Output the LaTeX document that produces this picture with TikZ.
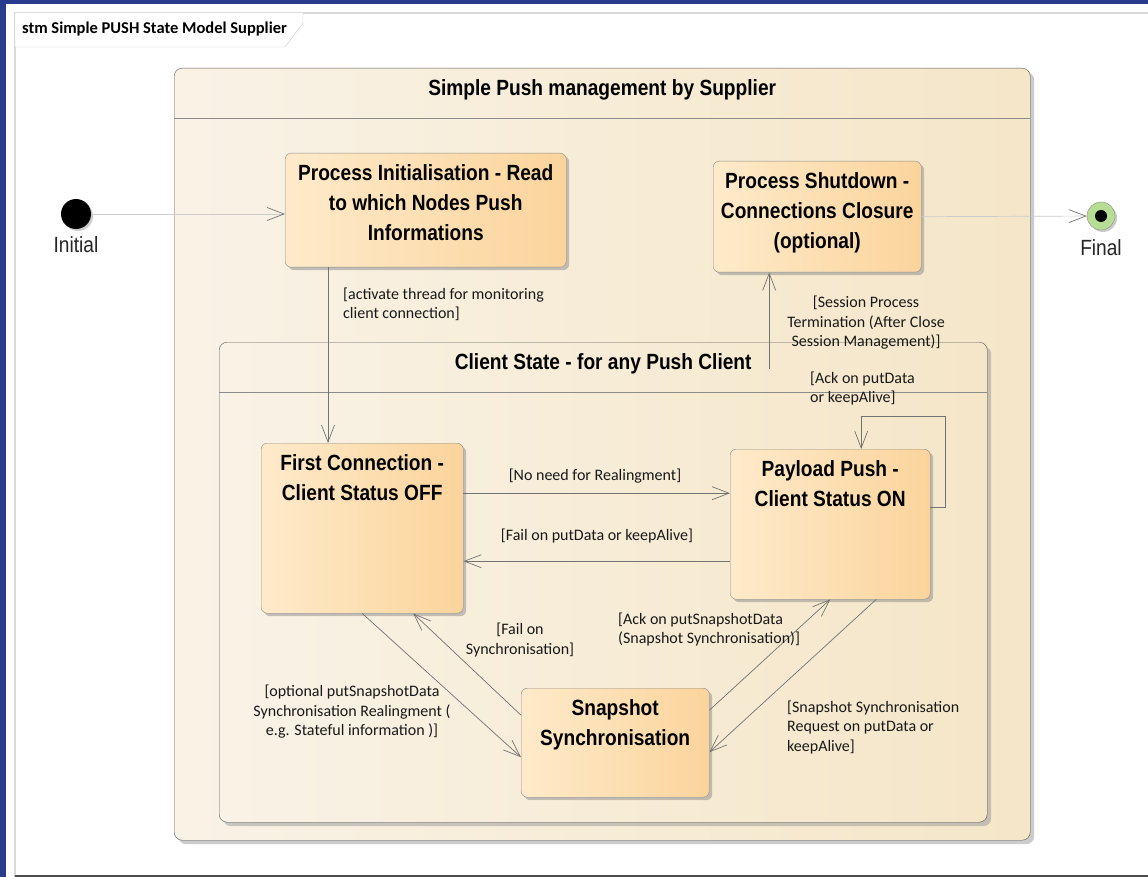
\documentclass[tikz,border=0pt]{standalone}
\usepackage{fontspec}
\setmainfont{Carlito}
\newfontfamily\narrowsans[FakeStretch=0.87]{Liberation Sans}
\usepackage{tikz}
\usetikzlibrary{arrows.meta, shadows, positioning}

\definecolor{frameblue}{RGB}{41,59,140}
\definecolor{compL}{RGB}{249,242,230}
\definecolor{compR}{RGB}{245,230,200}
\definecolor{stateL}{RGB}{254,234,202}
\definecolor{stateR}{RGB}{251,212,156}
\definecolor{finalgreen}{RGB}{183,220,148}

\tikzset{
	statebox/.style={draw=black!45, rounded corners=6pt, left color=stateL, right color=stateR,
		anchor=north west, inner sep=0pt,
		drop shadow={shadow xshift=3pt, shadow yshift=-3pt, fill=black!45, opacity=.5}},
	compbox/.style={draw=black!65, rounded corners=8pt, left color=compL, right color=compR,
		anchor=north west, inner sep=0pt,
		drop shadow={shadow xshift=4pt, shadow yshift=-4pt, fill=black!40, opacity=.5}},
	statetext/.style={anchor=north, inner sep=0pt, yshift=-11pt, align=center,
		font=\narrowsans\bfseries\fontsize{22}{30}\selectfont},
	pseudotext/.style={inner sep=0pt, font=\narrowsans\fontsize{22}{26}\selectfont, text=black!85},
	guard/.style={inner sep=0pt, text=black!90, font=\fontsize{16}{19.5}\selectfont},
	trans/.style={draw=black!55, line width=0.7pt, -{Straight Barb[length=17pt, width=13pt]}},
	entry/.style={draw=black!20, line width=0.7pt, -{Straight Barb[length=17pt, width=13pt, color=black!55]}},
}

\begin{document}
\begin{tikzpicture}[x=1pt, y=-1pt]
	\useasboundingbox (0,0) rectangle (1148,877);
	\fill[white] (0,0) rectangle (1148,877);
	\fill[frameblue] (0,0) rectangle (6,877);
	\fill[frameblue] (0,0) rectangle (1148,4);
	\draw[black!15, line width=1.2pt] (15,877) -- (15,13) -- (1148,13);
	\draw[black!70, line width=1.5pt] (15,876) -- (1148,876);
	\draw[black!20, fill=white] (15,13) -- (15,47) -- (285,47) -- (303,23) -- (303,13);
	\node[anchor=west, inner sep=0pt, font=\bfseries\fontsize{16.5}{19}\selectfont] (diagname) at (22,29) {stm Simple PUSH State Model Supplier};

	\node[compbox, minimum width=856pt, minimum height=772pt,
		label={[statetext]north:Simple Push management by Supplier}] (supplier) at (174,68) {};
	\draw[black!45] ([yshift=-50pt]supplier.north west) -- ([yshift=-50pt]supplier.north east);

	\node[compbox, minimum width=768pt, minimum height=480pt,
		label={[statetext]north:Client State - for any Push Client}] (client) at (219,342) {};
	\draw[black!45] ([yshift=-50pt]client.north west) -- ([yshift=-50pt]client.north east);

	\node[statebox, minimum width=281pt, minimum height=114pt,
		label={[statetext]north:Process Initialisation - Read\\to which Nodes Push\\Informations}] (procinit) at (285,153) {};
	\node[statebox, minimum width=208pt, minimum height=111pt,
		label={[statetext]north:Process Shutdown -\\Connections Closure\\(optional)}] (shutdown) at (713,161) {};
	\node[statebox, minimum width=202pt, minimum height=170pt,
		label={[statetext]north:First Connection -\\Client Status OFF}] (first) at (261,443) {};
	\node[statebox, minimum width=200pt, minimum height=150pt,
		label={[statetext]north:Payload Push -\\Client Status ON}] (payload) at (730,449) {};
	\node[statebox, minimum width=188pt, minimum height=109pt,
		label={[statetext]north:Snapshot\\Synchronisation}] (snapshot) at (521,688) {};

	\node[circle, fill=black, minimum size=30pt, inner sep=0pt,
		drop shadow={shadow xshift=2pt, shadow yshift=-2pt, fill=black!40, opacity=.5},
		label={[pseudotext, label distance=7pt]below:Initial}] (initial) at (76,214) {};
	\node[circle, draw=black!45, fill=finalgreen, minimum size=28pt, inner sep=0pt,
		drop shadow={shadow xshift=2pt, shadow yshift=-2pt, fill=black!40, opacity=.5},
		label={[pseudotext, label distance=9pt]below:Final}] (final) at (1101,216) {};
	\node[circle, fill=black, minimum size=12pt, inner sep=0pt] (finaldot) at (final) {};

	\coordinate (clientexit) at ([xshift=-48pt, yshift=-27pt]shutdown.south |- client.north);

	\draw[entry] (initial) -- (initial -| procinit.west);
	\draw[entry] (shutdown.east) -- (final);
	\draw[trans] ([xshift=43pt]procinit.south west) -- ([xshift=43pt]procinit.south west |- first.north);
	\draw[trans] (clientexit) -- (clientexit |- shutdown.south);
	\draw[trans] ([yshift=17pt]payload.east) -- ++(15,0) |- ([xshift=31pt, yshift=33pt]payload.north) -- ([xshift=31pt]payload.north);
	\draw[trans] ([yshift=35pt]first.east) -- ([yshift=35pt]first.east -| payload.west);
	\draw[trans] ([yshift=-37pt]payload.west) -- ([yshift=-37pt]payload.west -| first.east);
	\draw[trans] ([yshift=27.5pt]snapshot.west) -- ([xshift=51pt]first.south);
	\draw[trans] (first.south) -- ([yshift=-14.5pt]snapshot.west);
	\draw[trans] ([yshift=32.5pt]snapshot.east) -- (payload.south);
	\draw[trans] ([xshift=46pt]payload.south) -- ([yshift=-9.5pt]snapshot.east);

	\node[guard, anchor=west, align=left] (g1) at (343,304.5) {[activate thread for monitoring\\client connection]};
	\node[guard, align=center] (g2) at (866,323) {[Session Process\\Termination (After Close\\Session Management)]};
	\node[guard, anchor=west, align=left] (g3) at (810,388.5) {[Ack on putData\\or keepAlive]};
	\node[guard] (g4) at (595,476) {[No need for Realingment]};
	\node[guard] (g5) at (597,536) {[Fail on putData or keepAlive]};
	\node[guard, align=center] (g6) at (520,640) {[Fail on\\Synchronisation]};
	\node[guard, align=center] (g7) at (352,712) {[optional putSnapshotData\\Synchronisation Realingment (\\e.g. Stateful information )]};
	\node[guard, anchor=west, align=left] (g8) at (618,629.5) {[Ack on putSnapshotData\\(Snapshot Synchronisation)]};
	\node[guard, anchor=west, align=left] (g9) at (787,727.5) {[Snapshot Synchronisation\\Request on putData or\\keepAlive]};
\end{tikzpicture}
\end{document}
